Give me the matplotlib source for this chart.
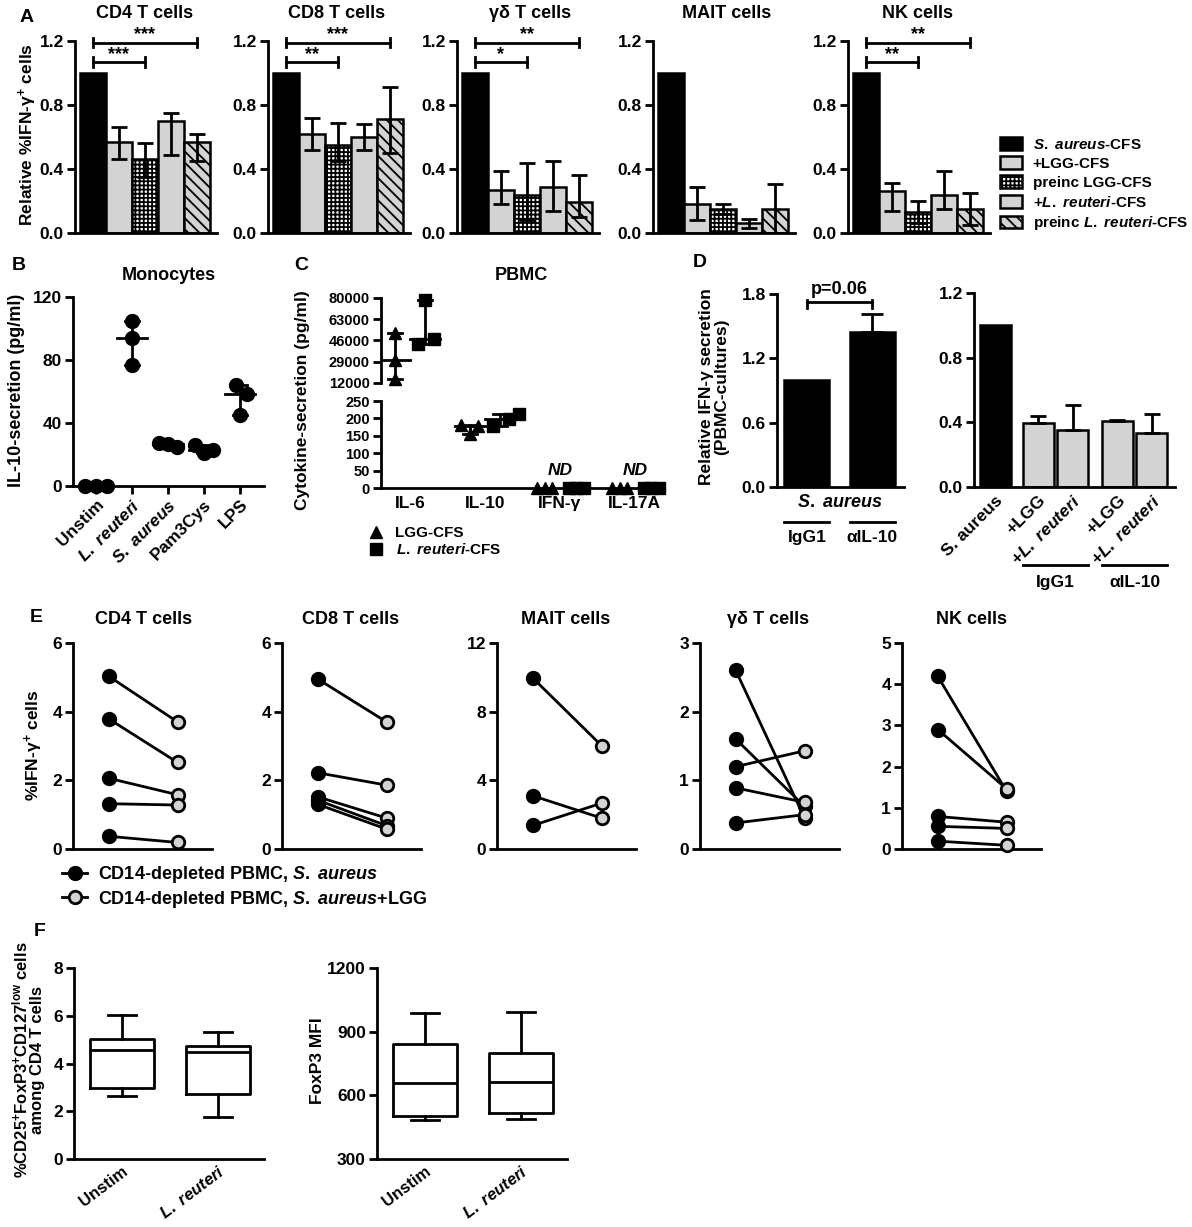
import numpy as np
import matplotlib
matplotlib.use('Agg')
import matplotlib.pyplot as plt
from matplotlib.patches import Patch
from matplotlib.lines import Line2D

plt.rcParams['font.family'] = ['Liberation Sans', 'DejaVu Sans']
plt.rcParams['font.weight'] = 'bold'
plt.rcParams['mathtext.fontset'] = 'custom'
plt.rcParams['mathtext.rm'] = 'Liberation Sans:bold'
plt.rcParams['mathtext.it'] = 'Liberation Sans:italic:bold'
plt.rcParams['mathtext.bf'] = 'Liberation Sans:bold'
plt.rcParams['hatch.linewidth'] = 1.3

# ---------------- data ----------------
# A: relative %IFN-g+ cells (mean, lower, upper)
a_titles = ['CD4 T cells', 'CD8 T cells', 'γδ T cells', 'MAIT cells', 'NK cells']
cd4_mean = [1.0, 0.57, 0.46, 0.70, 0.57]
cd4_lo = [1.0, 0.46, 0.35, 0.49, 0.45]
cd4_hi = [1.0, 0.66, 0.565, 0.75, 0.62]
cd8_mean = [1.0, 0.62, 0.55, 0.60, 0.71]
cd8_lo = [1.0, 0.52, 0.45, 0.52, 0.50]
cd8_hi = [1.0, 0.72, 0.69, 0.68, 0.91]
gd_mean = [1.0, 0.27, 0.235, 0.29, 0.195]
gd_lo = [1.0, 0.18, 0.08, 0.135, 0.10]
gd_hi = [1.0, 0.39, 0.44, 0.45, 0.36]
mait_mean = [1.0, 0.18, 0.15, 0.06, 0.15]
mait_lo = [1.0, 0.08, 0.12, 0.03, 0.0]
mait_hi = [1.0, 0.285, 0.18, 0.09, 0.305]
nk_mean = [1.0, 0.26, 0.13, 0.24, 0.15]
nk_lo = [1.0, 0.14, 0.06, 0.15, 0.05]
nk_hi = [1.0, 0.315, 0.20, 0.39, 0.25]
sig_low = ['***', '**', '*', '', '**']
sig_high = ['***', '***', '**', '', '**']
a_legend = [r'$\mathit{S.\ aureus}$-CFS', '+LGG-CFS', 'preinc LGG-CFS',
            r'+$\mathit{L.\ reuteri}$-CFS', r'preinc $\mathit{L.\ reuteri}$-CFS']

# B: IL-10 secretion by monocytes (pg/ml)
b_labels = ['Unstim', r'$\mathit{L.\ reuteri}$', r'$\mathit{S.\ aureus}$', 'Pam3Cys', 'LPS']
b_unstim = [0, 0, 0]
b_reuteri = [105, 94, 77]
b_saureus = [27.5, 25.0, 26.6]
b_pam3cys = [26.0, 20.7, 22.8]
b_lps = [64, 45, 58.5]

# C: PBMC cytokines (pg/ml)
c_labels = ['IL-6', 'IL-10', 'IFN-γ', 'IL-17A']
c_lgg_il6 = [52000, 30000, 15000]
c_reu_il6 = [78500, 47000, 43500]
c_lgg_il10 = [180, 155, 178]
c_reu_il10 = [212, 178, 198]
c_lgg_ifng = [0, 0, 0]
c_reu_ifng = [0, 0, 0]
c_lgg_il17 = [0, 0, 0]
c_reu_il17 = [0, 0, 0]

# D: relative IFN-g secretion
d1_labels = ['IgG1', 'αIL-10']
d1_mean = [1.0, 1.45]
d1_hi = [1.0, 1.615]
d2_labels = ['S. aureus', '+LGG', r'+$\mathit{L.\ reuteri}$', '+LGG', r'+$\mathit{L.\ reuteri}$']
d2_mean = [1.0, 0.393, 0.355, 0.41, 0.335]
d2_hi = [1.0, 0.438, 0.51, 0.416, 0.45]

# E: %IFN-g+ cells, S. aureus vs S. aureus+LGG
e_titles = ['CD4 T cells', 'CD8 T cells', 'MAIT cells', 'γδ T cells', 'NK cells']
e_cd4_sa = [5.03, 3.79, 2.06, 1.32, 0.37]
e_cd4_lgg = [3.70, 2.52, 1.58, 1.28, 0.19]
e_cd8_sa = [4.95, 2.22, 1.52, 1.42, 1.30]
e_cd8_lgg = [3.70, 1.86, 0.90, 0.68, 0.58]
e_mait_sa = [9.96, 3.10, 1.37]
e_mait_lgg = [6.02, 1.80, 2.67]
e_gd_sa = [2.60, 1.60, 1.20, 0.89, 0.38]
e_gd_lgg = [0.45, 0.62, 1.43, 0.68, 0.50]
e_nk_sa = [4.19, 2.90, 0.79, 0.55, 0.19]
e_nk_lgg = [1.40, 1.46, 0.65, 0.50, 0.09]

# F: box stats (min, q1, median, q3, max)
f_labels = ['Unstim', r'$\mathit{L.\ reuteri}$']
f_treg_unstim = [2.65, 2.97, 4.58, 5.04, 6.02]
f_treg_reuteri = [1.75, 2.72, 4.47, 4.75, 5.30]
f_mfi_unstim = [484, 503, 657, 842, 986]
f_mfi_reuteri = [487, 515, 661, 798, 994]

# ---------------- figure ----------------
W, H = 1192, 1227
fig = plt.figure(figsize=(W / 100, H / 100), dpi=100)
GRAY = '#d3d3d3'


def add_ax(x0, x1, y0, y1):
    return fig.add_axes([x0 / W, 1 - y1 / H, (x1 - x0) / W, (y1 - y0) / H])


def style(ax, size=12.5, bottom=True):
    for s in ['top', 'right']:
        ax.spines[s].set_visible(False)
    ax.spines['left'].set_linewidth(2)
    ax.spines['bottom'].set_linewidth(2)
    ax.spines['bottom'].set_visible(bottom)
    ax.tick_params(width=2, length=6, labelsize=size, pad=2)
    ax.patch.set_alpha(0)


def ftext(x, y, s, **kw):
    kw.setdefault('ha', 'center')
    kw.setdefault('va', 'center')
    fig.text(x / W, 1 - y / H, s, **kw)


# panel letters
for letter, (x, y) in zip('ABCDEF', [(27, 17), (19, 265), (301, 265), (700, 263), (36, 618), (40, 932)]):
    ftext(x, y, letter, fontsize=14)

# ---- A ----
bar_colors = ['black', GRAY, 'white', GRAY, GRAY]
bar_hatch = [None, None, '++++', None, '\\\\\\']
a_means = [cd4_mean, cd8_mean, gd_mean, mait_mean, nk_mean]
a_los = [cd4_lo, cd8_lo, gd_lo, mait_lo, nk_lo]
a_his = [cd4_hi, cd8_hi, gd_hi, mait_hi, nk_hi]
a_left = [75, 268, 457, 653, 848]
a_title_x = [145, 337, 530, 727, 918]
for i in range(5):
    ax = add_ax(a_left[i], a_left[i] + 142, 41, 233)
    style(ax)
    m = np.array(a_means[i])
    lo = np.array(a_los[i])
    hi = np.array(a_his[i])
    x = np.arange(len(m))
    for j in range(len(m)):
        ax.bar(x[j], m[j], width=1.0, color=bar_colors[j], edgecolor='black',
               lw=1.8, hatch=bar_hatch[j], zorder=2)
    ax.errorbar(x[1:], m[1:], yerr=[m[1:] - lo[1:], hi[1:] - m[1:]], fmt='none',
                ecolor='black', elinewidth=2, capsize=6, capthick=2, zorder=3)
    ax.set_xlim(-0.69, 4.77)
    ax.set_ylim(0, 1.2)
    ax.set_yticks([0, 0.4, 0.8, 1.2], ['0.0', '0.4', '0.8', '1.2'])
    ax.set_xticks([])
    for txt, x1, y in [(sig_low[i], 2, 1.07), (sig_high[i], 4, 1.19)]:
        if not txt:
            continue
        ax.plot([0, x1], [y, y], color='k', lw=2, clip_on=False)
        for xx in (0, x1):
            ax.plot([xx, xx], [y - 0.03, y + 0.03], color='k', lw=2, clip_on=False)
        ax.text(x1 / 2, y - 0.005, txt, ha='center', va='bottom', fontsize=13)
    ftext(a_title_x[i], 13, a_titles[i], fontsize=13)

ftext(28, 135, 'Relative %IFN-γ$^{+}$ cells', rotation=90, fontsize=12.5)

handles = [Patch(facecolor=c, edgecolor='black', lw=1.8, hatch=h) for c, h in zip(bar_colors, bar_hatch)]
fig.legend(handles, a_legend, loc='upper left', bbox_to_anchor=(1000 / W, 1 - 137 / H),
           frameon=False, fontsize=11, handlelength=1.45, handleheight=0.9,
           handletextpad=0.7, labelspacing=0.3, borderaxespad=0, borderpad=0)

# ---- B ----
ax = add_ax(73, 264, 297, 486)
style(ax)
b_groups = [b_unstim, b_reuteri, b_saureus, b_pam3cys, b_lps]
b_offsets = [[-0.3, 0, 0.3], [0, 0, 0], [-0.25, 0.25, 0], [-0.25, 0, 0.25], [-0.1, 0, 0.2]]
for k, vals in enumerate(b_groups):
    vals = np.array(vals, dtype=float)
    ax.plot(k + np.array(b_offsets[k]), vals, 'o', color='black', ms=10, clip_on=False, zorder=3)
    med = np.median(vals)
    ax.plot([k - 0.42, k + 0.42], [med, med], color='k', lw=2, zorder=2)
    ax.plot([k, k], [vals.min(), vals.max()], color='k', lw=2, zorder=2)
    for v in (vals.min(), vals.max()):
        ax.plot([k - 0.2, k + 0.2], [v, v], color='k', lw=2, zorder=2)
ax.set_xlim(-0.64, 4.67)
ax.set_ylim(0, 120)
ax.set_yticks([0, 40, 80, 120])
ax.set_xticks(range(5))
ax.set_xticklabels(b_labels, rotation=45, ha='right', rotation_mode='anchor')
ftext(169, 276, 'Monocytes', fontsize=13)
ftext(17, 390, 'IL-10-secretion (pg/ml)', rotation=90, fontsize=13)

# ---- C ----
ax_top = add_ax(381, 664, 298, 383)
ax_bot = add_ax(381, 664, 401, 488)
style(ax_top, size=10.5, bottom=False)
style(ax_bot, size=10.5)
ax_top.tick_params(axis='x', bottom=False, labelbottom=False)
c_lgg = [c_lgg_il6, c_lgg_il10, c_lgg_ifng, c_lgg_il17]
c_reu = [c_reu_il6, c_reu_il10, c_reu_ifng, c_reu_il17]
c_off_lgg = [[0, 0, 0], [-0.12, 0, 0.1], [-0.3, -0.2, -0.1], [-0.3, -0.2, -0.1]]
c_off_reu = [[0, 0.12, -0.1], [0.25, -0.1, 0.12], [0.12, 0.22, 0.32], [0.12, 0.22, 0.32]]
for k in range(4):
    ax = ax_top if k == 0 else ax_bot
    for vals, off, mk, base in [(c_lgg[k], c_off_lgg[k], '^', -0.2), (c_reu[k], c_off_reu[k], 's', 0.2)]:
        vals = np.array(vals, dtype=float)
        xs = k + base + np.array(off) if k < 2 else k + np.array(off)
        ax.plot(xs, vals, mk, color='black', ms=8, clip_on=False, zorder=3)
        if k < 2:
            med = np.median(vals)
            c = k + base
            ax.plot([c - 0.2, c + 0.2], [med, med], color='k', lw=2)
            ax.plot([c, c], [vals.min(), vals.max()], color='k', lw=2)
            for v in (vals.min(), vals.max()):
                ax.plot([c - 0.09, c + 0.09], [v, v], color='k', lw=2)
for ax in (ax_top, ax_bot):
    ax.set_xlim(-0.39, 3.39)
ax_top.set_ylim(12000, 80000)
ax_top.set_yticks([12000, 29000, 46000, 63000, 80000],
                  ['12000', '29000', '46000', '63000', '80000'])
ax_bot.set_ylim(0, 250)
ax_bot.set_yticks([0, 50, 100, 150, 200, 250])
ax_bot.set_xticks(range(4))
ax_bot.set_xticklabels(c_labels, fontsize=12.5)
ax_bot.tick_params(axis='x', length=0, pad=6)
for k in (2, 3):
    ax_bot.text(k, 30, 'ND', ha='center', va='bottom', fontsize=12.5, style='italic')
ftext(521, 276, 'PBMC', fontsize=13)
ftext(303, 400, 'Cytokine-secretion (pg/ml)', rotation=90, fontsize=12.5)
c_handles = [Line2D([], [], marker='^', ls='none', color='k', ms=8),
             Line2D([], [], marker='s', ls='none', color='k', ms=8)]
fig.legend(c_handles, ['LGG-CFS', r'$\mathit{L.\ reuteri}$-CFS'], loc='upper left',
           bbox_to_anchor=(368 / W, 1 - 526 / H), frameon=False, fontsize=11,
           handlelength=1.0, handletextpad=0.8, labelspacing=0.15, borderaxespad=0, borderpad=0)

# ---- D left ----
ax = add_ax(777, 904, 294, 487)
style(ax)
d1_x = np.arange(2)
ax.bar(d1_x, d1_mean, width=0.69, color='black', edgecolor='black', lw=1.8, zorder=2)
ax.errorbar(d1_x[1:], d1_mean[1:], yerr=[[0], [d1_hi[1] - d1_mean[1]]], fmt='none',
            ecolor='black', elinewidth=2, capsize=8, capthick=2, zorder=3)
ax.set_xlim(-0.46, 1.49)
ax.set_ylim(0, 1.8)
ax.set_yticks([0, 0.6, 1.2, 1.8], ['0.0', '0.6', '1.2', '1.8'])
ax.set_xticks([])
yb = 1.725
ax.plot([0, 1], [yb, yb], color='k', lw=2, clip_on=False)
for xx in (0, 1):
    ax.plot([xx, xx], [yb - 0.06, yb + 0.02], color='k', lw=2, clip_on=False)
ax.text(0.5, yb + 0.04, 'p=0.06', ha='center', va='bottom', fontsize=13)
tr = ax.get_xaxis_transform()
ax.text(0.5, -0.078, r'$\mathit{S.\ aureus}$', transform=tr, ha='center', va='center', fontsize=13)
for k, lab in enumerate(d1_labels):
    ax.plot([k - 0.345, k + 0.345], [-0.18, -0.18], transform=tr, color='k', lw=2, clip_on=False)
    ax.text(k, -0.26, lab, transform=tr, ha='center', va='center', fontsize=12.5)
ftext(714, 387, 'Relative IFN-γ secretion\n(PBMC-cultures)', rotation=90, fontsize=12.5,
      multialignment='center', linespacing=1.0)

# ---- D right ----
ax = add_ax(974, 1175, 293, 487)
style(ax)
d2_x = np.array([0, 1.25, 2.25, 3.55, 4.55])
d2_col = ['black', GRAY, GRAY, GRAY, GRAY]
d2_m = np.array(d2_mean)
d2_h = np.array(d2_hi)
ax.bar(d2_x, d2_m, width=0.9, color=d2_col, edgecolor='black', lw=1.8, zorder=2)
ax.errorbar(d2_x[1:], d2_m[1:], yerr=[np.zeros(4), d2_h[1:] - d2_m[1:]], fmt='none',
            ecolor='black', elinewidth=2, capsize=6, capthick=2, zorder=3)
ax.set_xlim(-0.61, 5.22)
ax.set_ylim(0, 1.2)
ax.set_yticks([0, 0.4, 0.8, 1.2], ['0.0', '0.4', '0.8', '1.2'])
ax.set_xticks(d2_x)
ax.set_xticklabels(d2_labels, rotation=45, ha='right', rotation_mode='anchor', fontsize=12.5)
ax.tick_params(axis='x', length=0, pad=4)
tr = ax.get_xaxis_transform()
for a, b, lab in [(1, 2, d1_labels[0]), (3, 4, d1_labels[1])]:
    ax.plot([d2_x[a] - 0.45, d2_x[b] + 0.45], [-0.40, -0.40], transform=tr, color='k', lw=2, clip_on=False)
    ax.text((d2_x[a] + d2_x[b]) / 2, -0.49, lab, transform=tr, ha='center', va='center', fontsize=12.5)

# ---- E ----
e_sa = [e_cd4_sa, e_cd8_sa, e_mait_sa, e_gd_sa, e_nk_sa]
e_lgg = [e_cd4_lgg, e_cd8_lgg, e_mait_lgg, e_gd_lgg, e_nk_lgg]
e_left = [73, 282, 497, 700, 902]
e_title_x = [144, 351, 566, 768, 972]
e_ymax = [6, 6, 12, 3, 5]
e_ticks = [[0, 2, 4, 6], [0, 2, 4, 6], [0, 4, 8, 12], [0, 1, 2, 3], [0, 1, 2, 3, 4, 5]]
for i in range(5):
    ax = add_ax(e_left[i], e_left[i] + 139, 643, 849)
    style(ax)
    for b, g in zip(e_sa[i], e_lgg[i]):
        ax.plot([0, 1], [b, g], color='k', lw=2, zorder=2)
    n = len(e_sa[i])
    ax.plot(np.zeros(n), e_sa[i], 'o', ms=9, mfc='black', mec='black', mew=2, zorder=3, clip_on=False)
    ax.plot(np.ones(n), e_lgg[i], 'o', ms=9, mfc=GRAY, mec='black', mew=2, zorder=3, clip_on=False)
    ax.set_xlim(-0.52, 1.5)
    ax.set_ylim(0, e_ymax[i])
    ax.set_yticks(e_ticks[i])
    ax.set_xticks([])
    ftext(e_title_x[i], 620, e_titles[i], fontsize=13)
ftext(34, 745, '%IFN-γ$^{+}$ cells', rotation=90, fontsize=12.5)
e_handles = [Line2D([], [], color='k', lw=2, marker='o', ms=9, mfc='black', mec='black', mew=2),
             Line2D([], [], color='k', lw=2, marker='o', ms=9, mfc=GRAY, mec='black', mew=2)]
fig.legend(e_handles, [r'CD14-depleted PBMC, $\mathit{S.\ aureus}$',
                       r'CD14-depleted PBMC, $\mathit{S.\ aureus}$+LGG'],
           loc='upper left', bbox_to_anchor=(62 / W, 1 - 864 / H), frameon=False, fontsize=13,
           handlelength=1.4, handletextpad=0.6, labelspacing=0.2, borderaxespad=0, borderpad=0)

# ---- F ----
def box_stats(v):
    return dict(whislo=v[0], q1=v[1], med=v[2], q3=v[3], whishi=v[4], fliers=[])


f_sets = [([f_treg_unstim, f_treg_reuteri], 74, (0, 8), [0, 2, 4, 6, 8]),
          ([f_mfi_unstim, f_mfi_reuteri], 377, (300, 1200), [300, 600, 900, 1200])]
for data, left, ylim, ticks in f_sets:
    ax = add_ax(left, left + 190, 968, 1159)
    style(ax)
    ax.bxp([box_stats(v) for v in data], positions=[0, 1], widths=0.66, showfliers=False,
           capwidths=0.3, boxprops=dict(lw=2), whiskerprops=dict(lw=2),
           capprops=dict(lw=2), medianprops=dict(color='black', lw=2))
    ax.set_xlim(-0.5, 1.48)
    ax.set_ylim(*ylim)
    ax.set_yticks(ticks)
    ax.set_xticks([0, 1])
    ax.set_xticklabels(f_labels, rotation=37, ha='right', rotation_mode='anchor', fontsize=12)
    ax.tick_params(axis='x', length=0, pad=3)
ftext(28, 1060, '%CD25$^{+}$FoxP3$^{+}$CD127$^{\\mathrm{low}}$ cells\namong CD4 T cells',
      rotation=90, fontsize=12, multialignment='center', linespacing=1.0)
ftext(318, 1061, 'FoxP3 MFI', rotation=90, fontsize=12.5)

fig.savefig('out.png', dpi=100)
